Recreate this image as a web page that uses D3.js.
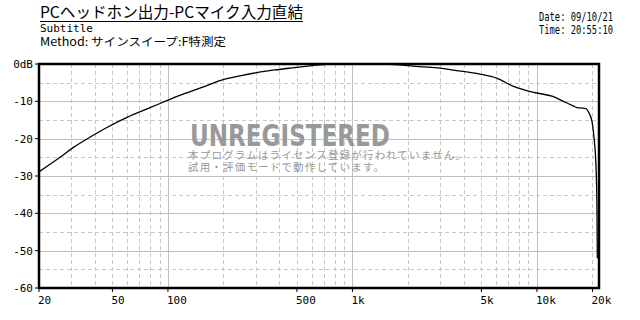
<!DOCTYPE html>
<html lang="ja">
<head>
<meta charset="utf-8">
<title>PCヘッドホン出力-PCマイク入力直結</title>
<script src="https://d3js.org/d3.v7.min.js"></script>
<style>
  body { margin: 0; background: #fff; }
  svg { display: block; }
</style>
</head>
<body>
<div id="chart"></div>

<script type="text/javascript">
	// data
	var freqs = [20, 26, 30.6, 38.7, 46.7, 60, 80, 100, 113, 132, 160, 199, 250, 304, 380, 459, 588, 666,
	             760, 1000, 1400, 1800, 2300, 2980, 3600, 4900, 6050, 7400, 8100, 9800, 12200, 13900,
	             15700, 16500, 17500, 18300, 19000, 19900, 20400, 20800, 21000, 21150, 21250];
	var levels = [-28.9, -25.0, -22.4, -19.3, -17.0, -14.3, -11.7, -9.7, -8.6, -7.4, -5.9, -4.2, -3.1, -2.3, -1.6, -1.1, -0.5, -0.2,
	              -0.1, 0.0, 0.0, -0.2, -0.7, -1.1, -1.7, -2.7, -3.8, -5.9, -6.6, -7.7, -8.7, -10.0,
	              -11.2, -11.7, -11.8, -11.9, -12.8, -15.5, -19.8, -25.0, -30.5, -38.0, -52.0];

	var xTickVals = [20, 50, 100, 500, 1000, 5000, 10000, 20000],
		xTickText = ['20', '50', '100', '500', '1k', '5k', '10k', '20k'];
	var yTickVals = [0, -10, -20, -30, -40, -50, -60],
		yTickText = ['0dB', '-10', '-20', '-30', '-40', '-50', '-60'];
	var xMajor = [100, 1000, 10000],
		xMinor = [30, 40, 50, 60, 70, 80, 90, 200, 300, 400, 500, 600, 700, 800, 900,
		          2000, 3000, 4000, 5000, 6000, 7000, 8000, 9000, 20000];
	var yMajor = [-10, -20, -30, -40, -50],
		yMinor = [-5, -15, -25, -35, -45, -55];

	var titleText = 'PCヘッドホン出力-PCマイク入力直結',
		subText = 'Subtitle',
		methodText = 'Method: サインスイープ:F特測定',
		dateText = 'Date: 09/10/21',
		timeText = 'Time: 20:55:10',
		wmText = 'UNREGISTERED',
		wmLine1 = '本プログラムはライセンス登録が行われていません。',
		wmLine2 = '試用・評価モードで動作しています。';

	var W = 640, H = 320;
	var plot = {left: 39, right: 599, top: 64, bottom: 288};
	var jp = '"Noto Sans CJK JP", sans-serif',
		mono = '"DejaVu Sans Mono", "Liberation Mono", monospace';

	var svg = d3.select('#chart').append('svg')
		.attr('width', W)
		.attr('height', H);

	var x = d3.scaleLog().domain([20, 21700]).range([plot.left, plot.right]);
	var y = d3.scaleLinear().domain([-60, 0]).range([plot.bottom, plot.top]);

	// grid
	var grid = svg.append('g');
	grid.selectAll('.xmin').data(xMinor).enter().append('line')
		.attr('x1', function(d) { return Math.round(x(d)) + 0.5; })
		.attr('x2', function(d) { return Math.round(x(d)) + 0.5; })
		.attr('y1', plot.top).attr('y2', plot.bottom)
		.style('stroke', '#c8c8c8').style('stroke-dasharray', '4,3');
	grid.selectAll('.ymin').data(yMinor).enter().append('line')
		.attr('x1', plot.left).attr('x2', plot.right)
		.attr('y1', function(d) { return Math.round(y(d)) + 0.5; })
		.attr('y2', function(d) { return Math.round(y(d)) + 0.5; })
		.style('stroke', '#c8c8c8').style('stroke-dasharray', '4,3');
	grid.selectAll('.xmaj').data(xMajor).enter().append('line')
		.attr('x1', function(d) { return Math.round(x(d)) + 0.5; })
		.attr('x2', function(d) { return Math.round(x(d)) + 0.5; })
		.attr('y1', plot.top).attr('y2', plot.bottom)
		.style('stroke', '#c0c0c0');
	grid.selectAll('.ymaj').data(yMajor).enter().append('line')
		.attr('x1', plot.left).attr('x2', plot.right)
		.attr('y1', function(d) { return Math.round(y(d)) + 0.5; })
		.attr('y2', function(d) { return Math.round(y(d)) + 0.5; })
		.style('stroke', '#c0c0c0');

	// watermark
	svg.append('text')
		.attr('x', 190).attr('y', 146)
		.attr('textLength', 200).attr('lengthAdjust', 'spacingAndGlyphs')
		.style('font-family', '"DejaVu Sans", sans-serif')
		.style('font-weight', 'bold')
		.style('font-size', '30px')
		.style('fill', '#999')
		.text(wmText);
	svg.append('text')
		.attr('x', 188).attr('y', 159)
		.attr('textLength', 278).attr('lengthAdjust', 'spacing')
		.style('font-family', jp).style('font-size', '10.5px')
		.style('fill', '#999')
		.text(wmLine1);
	svg.append('text')
		.attr('x', 188).attr('y', 170.5)
		.attr('textLength', 196).attr('lengthAdjust', 'spacing')
		.style('font-family', jp).style('font-size', '10.5px')
		.style('fill', '#999')
		.text(wmLine2);

	// response curve
	svg.append('clipPath').attr('id', 'clip')
		.append('rect')
		.attr('x', plot.left).attr('y', plot.top)
		.attr('width', plot.right - plot.left).attr('height', plot.bottom - plot.top);

	var pts = freqs.map(function(f, i) { return [f, levels[i]]; });
	var line = d3.line()
		.x(function(d) { return x(d[0]); })
		.y(function(d) { return y(d[1]); })
		.curve(d3.curveMonotoneX);
	svg.append('path')
		.datum(pts)
		.attr('clip-path', 'url(#clip)')
		.attr('d', line)
		.style('fill', 'none')
		.style('stroke', '#000')
		.style('stroke-width', 1.3);

	// frame
	svg.append('rect')
		.attr('x', plot.left).attr('y', plot.top)
		.attr('width', plot.right - plot.left).attr('height', plot.bottom - plot.top)
		.style('fill', 'none').style('stroke', '#000').style('stroke-width', 2.5);

	// y axis ticks + labels
	var yAx = svg.append('g');
	yAx.selectAll('line').data(yTickVals).enter().append('line')
		.attr('x1', plot.left - 4).attr('x2', plot.left)
		.attr('y1', function(d) { return y(d); })
		.attr('y2', function(d) { return y(d); })
		.style('stroke', '#000');
	yAx.selectAll('text').data(yTickVals).enter().append('text')
		.attr('x', 33)
		.attr('y', function(d) { return y(d) + 4; })
		.attr('text-anchor', 'end')
		.style('font-family', mono).style('font-size', '11px')
		.text(function(d, i) { return yTickText[i]; });

	// x axis ticks + labels
	var xAx = svg.append('g');
	xAx.selectAll('line').data(xTickVals).enter().append('line')
		.attr('x1', function(d) { return x(d); })
		.attr('x2', function(d) { return x(d); })
		.attr('y1', plot.bottom).attr('y2', plot.bottom + 4)
		.style('stroke', '#000');
	xAx.selectAll('text').data(xTickVals).enter().append('text')
		.attr('x', function(d) { return x(d) - 1; })
		.attr('y', 304)
		.attr('text-anchor', 'start')
		.style('font-family', mono).style('font-size', '11px')
		.text(function(d, i) { return xTickText[i]; });

	// header texts
	svg.append('text')
		.attr('x', 40).attr('y', 18)
		.attr('textLength', 263).attr('lengthAdjust', 'spacingAndGlyphs')
		.style('font-family', jp).style('font-size', '15.5px')
		.text(titleText);
	svg.append('line')
		.attr('x1', 40).attr('x2', 303)
		.attr('y1', 21.5).attr('y2', 21.5)
		.style('stroke', '#000');
	svg.append('text')
		.attr('x', 40).attr('y', 32)
		.style('font-family', mono).style('font-size', '11px')
		.text(subText);
	svg.append('text')
		.attr('x', 40).attr('y', 46)
		.attr('textLength', 186).attr('lengthAdjust', 'spacingAndGlyphs')
		.style('font-family', jp).style('font-size', '11.5px')
		.text(methodText);
	svg.append('text')
		.attr('x', 539).attr('y', 21)
		.attr('textLength', 74).attr('lengthAdjust', 'spacingAndGlyphs')
		.style('font-family', mono).style('font-size', '11.5px')
		.text(dateText);
	svg.append('text')
		.attr('x', 539).attr('y', 34)
		.attr('textLength', 74).attr('lengthAdjust', 'spacingAndGlyphs')
		.style('font-family', mono).style('font-size', '11.5px')
		.text(timeText);
</script>
</body>
</html>
